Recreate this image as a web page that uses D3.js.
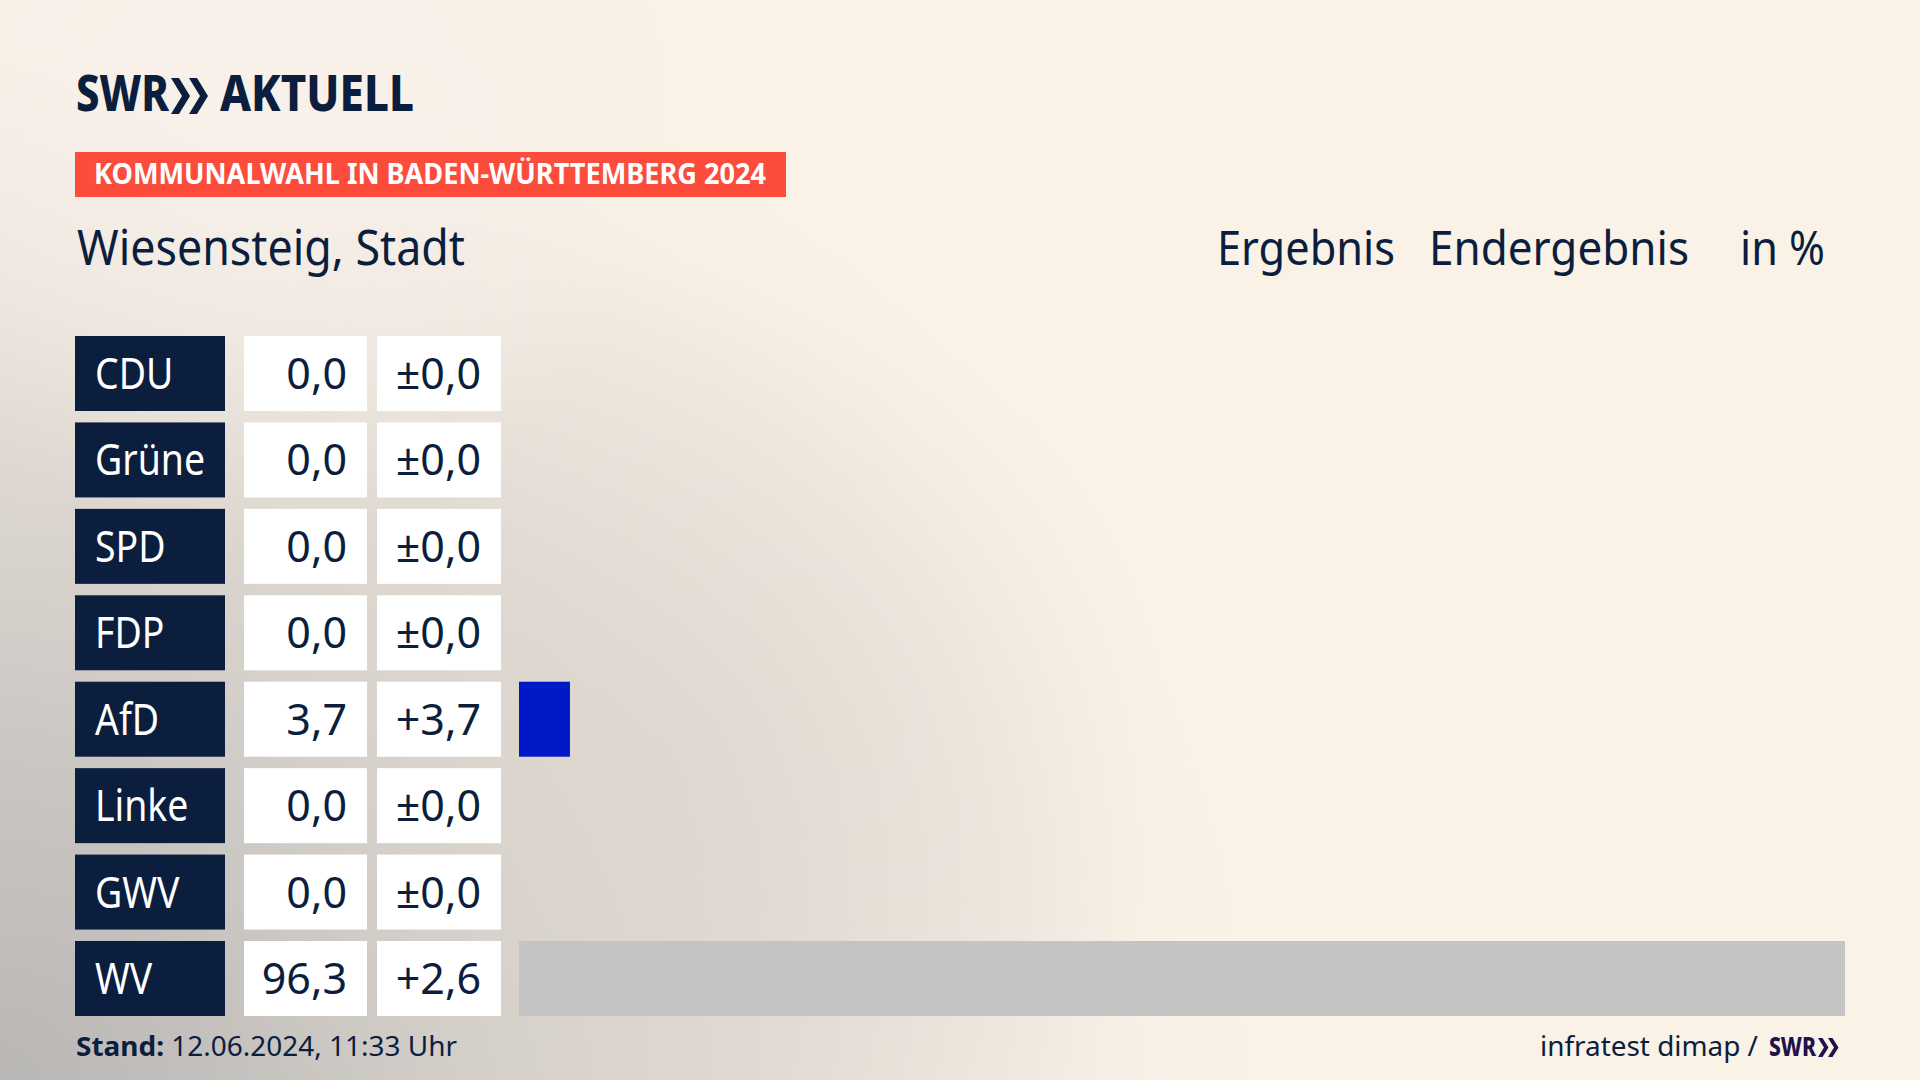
<!DOCTYPE html>
<html><head><meta charset="utf-8">
<script src="https://cdn.jsdelivr.net/npm/d3@7"></script>
<style>html,body{margin:0;padding:0;overflow:hidden;background:#faf1e7}</style>
</head><body>
<svg id="chart" width="1920" height="1080"></svg>
<script>
// ---- data ----
const parties = ["CDU","Grüne","SPD","FDP","AfD","Linke","GWV","WV"];
const results = [0.0,0.0,0.0,0.0,3.7,0.0,0.0,96.3];
const changes = [0.0,0.0,0.0,0.0,3.7,0.0,0.0,2.6];
const partyColors = ["#000000","#1a9f3d","#e3000f","#ffed00","#0019c8","#be3075","#8a8a8a","#c4c4c4"];
const headers = ["Ergebnis","Endergebnis","in %"];
const titleText = "Wiesensteig, Stadt";
const bannerText = "KOMMUNALWAHL IN BADEN-WÜRTTEMBERG 2024";
const standLabel = "Stand:";
const standValue = " 12.06.2024, 11:33 Uhr";
const sourceText = "infratest dimap /";

const NAVY = "#0c1e3d";
const FONT = "'Noto Sans', 'Open Sans', sans-serif";
const svg = d3.select("#chart");

function squeeze(sel, k) {
  sel.each(function () {
    const w = this.getComputedTextLength();
    d3.select(this).attr("textLength", w * k).attr("lengthAdjust", "spacingAndGlyphs");
  });
  return sel;
}

// ---- background ----
const defs = svg.append("defs");
const g1 = defs.append("radialGradient").attr("id","bg1")
  .attr("gradientUnits","userSpaceOnUse").attr("cx",0).attr("cy",1080).attr("r",1000)
  .attr("gradientTransform","translate(0,1080) scale(1.25,1.12) translate(0,-1080)");
[[0,"#b9b7b5",1],[0.3,"#cbc7c3",1],[0.6,"#ddd7d0",0.85],[0.85,"#ebe4dc",0.4],[1,"#faf1e7",0]]
  .forEach(s => g1.append("stop").attr("offset",s[0]).attr("stop-color",s[1]).attr("stop-opacity",s[2]));
const g2 = defs.append("radialGradient").attr("id","bg2")
  .attr("gradientUnits","userSpaceOnUse").attr("cx",650).attr("cy",780).attr("r",520);
[[0,"#ddd6ce",0.7],[1,"#ddd6ce",0]].forEach(s => g2.append("stop").attr("offset",s[0]).attr("stop-color",s[1]).attr("stop-opacity",s[2]));
const g3 = defs.append("radialGradient").attr("id","bg3")
  .attr("gradientUnits","userSpaceOnUse").attr("cx",250).attr("cy",120).attr("r",420);
[[0,"#f8f2ec",0.8],[1,"#f8f2ec",0]].forEach(s => g3.append("stop").attr("offset",s[0]).attr("stop-color",s[1]).attr("stop-opacity",s[2]));

svg.append("rect").attr("width",1920).attr("height",1080).attr("fill","#faf1e7");
svg.append("rect").attr("width",1920).attr("height",1080).attr("fill","url(#bg1)");
svg.append("rect").attr("width",1920).attr("height",1080).attr("fill","url(#bg2)");
svg.append("rect").attr("width",1920).attr("height",1080).attr("fill","url(#bg3)");

// ---- logo ----
function chevrons(g, x0, top, bottom, thick, depth, gap, color) {
  const mid = (top + bottom) / 2;
  for (let i = 0; i < 2; i++) {
    const x = x0 + i * gap;
    const pts = [[x, top], [x + thick, top], [x + thick + depth, mid], [x + thick, bottom], [x, bottom], [x + depth, mid]];
    g.append("path").attr("d", d3.line()(pts) + "Z").attr("fill", color);
  }
}
const logo = svg.append("g");
logo.append("text").attr("x",76).attr("y",111).attr("font-family",FONT).attr("font-weight",800)
  .attr("font-size",50).attr("fill",NAVY).attr("textLength",93).attr("lengthAdjust","spacingAndGlyphs").text("SWR");
chevrons(logo, 171, 78, 114, 8, 11, 18, NAVY);
logo.append("text").attr("x",220).attr("y",111).attr("font-family",FONT).attr("font-weight",800)
  .attr("font-size",50).attr("fill",NAVY).attr("textLength",194).attr("lengthAdjust","spacingAndGlyphs").text("AKTUELL");

// ---- banner ----
svg.append("rect").attr("x",75).attr("y",152).attr("width",711).attr("height",45).attr("fill","#fb4c3c");
svg.append("text").attr("x",94).attr("y",184).attr("font-family",FONT).attr("font-weight",700)
  .attr("font-size",29).attr("fill","#ffffff").attr("textLength",672).attr("lengthAdjust","spacingAndGlyphs").text(bannerText);

// ---- title & headers ----
svg.append("text").attr("x",77).attr("y",265).attr("font-family",FONT).attr("font-size",49)
  .attr("fill",NAVY).attr("textLength",388).attr("lengthAdjust","spacingAndGlyphs").text(titleText);
const headerPos = [[1217,178],[1429,260],[1740,85]];
svg.selectAll("text.hdr").data(headers).join("text").attr("class","hdr")
  .attr("x",(d,i)=>headerPos[i][0]).attr("y",265).attr("font-family",FONT).attr("font-size",48)
  .attr("fill",NAVY).attr("textLength",(d,i)=>headerPos[i][1]).attr("lengthAdjust","spacingAndGlyphs").text(d=>d);

// ---- scales ----
const y = d3.scaleBand().domain(parties).range([336, 1016]).paddingInner(0.1323).paddingOuter(0);
const x = d3.scaleLinear().domain([0, d3.max(results)]).range([519, 1845]);
const fmt = d3.format(".1f");
const fmtVal = v => fmt(v).replace(".", ",");
const fmtChg = v => (v > 0 ? "+" : v < 0 ? "\u2212" : "\u00b1") + fmt(Math.abs(v)).replace(".", ",");

const rows = svg.selectAll("g.row").data(parties).join("g").attr("class","row")
  .attr("transform", d => `translate(0,${y(d)})`);
const bw = y.bandwidth();

rows.append("rect").attr("x",75).attr("width",150).attr("height",bw).attr("fill",NAVY);
rows.append("rect").attr("x",244).attr("width",123).attr("height",bw).attr("fill","#ffffff");
rows.append("rect").attr("x",377).attr("width",124).attr("height",bw).attr("fill","#ffffff");
rows.append("rect").attr("x",x(0)).attr("height",bw)
  .attr("width",(d,i)=>x(results[i]) - x(0)).attr("fill",(d,i)=>partyColors[i]);

const TEXT_Y = 53;
const lbl = rows.append("text").attr("x",95).attr("y",TEXT_Y).attr("font-family",FONT).attr("font-size",43)
  .attr("fill","#ffffff").text(d=>d);
squeeze(lbl, 0.87);
rows.append("text").attr("x",347).attr("y",TEXT_Y).attr("text-anchor","end").attr("font-family",FONT)
  .attr("font-size",43).attr("fill",NAVY).text((d,i)=>fmtVal(results[i]));
rows.append("text").attr("x",481).attr("y",TEXT_Y).attr("text-anchor","end").attr("font-family",FONT)
  .attr("font-size",43).attr("fill",NAVY).text((d,i)=>fmtChg(changes[i]));

// ---- footer ----
const stand = svg.append("text").attr("x",76).attr("y",1056).attr("font-family",FONT).attr("font-size",27)
  .attr("fill",NAVY).attr("textLength",381).attr("lengthAdjust","spacingAndGlyphs");
stand.append("tspan").attr("font-weight",700).text(standLabel);
stand.append("tspan").text(standValue);

svg.append("text").attr("x",1540).attr("y",1056).attr("font-family",FONT).attr("font-size",27)
  .attr("fill",NAVY).attr("textLength",218).attr("lengthAdjust","spacingAndGlyphs").text(sourceText);
svg.append("text").attr("x",1769).attr("y",1056).attr("font-family",FONT).attr("font-weight",800).attr("font-size",26)
  .attr("fill","#22124a").attr("textLength",47).attr("lengthAdjust","spacingAndGlyphs").text("SWR");
chevrons(svg.append("g"), 1818, 1038, 1057, 4.5, 6, 10, "#22124a");
</script>
</body></html>
